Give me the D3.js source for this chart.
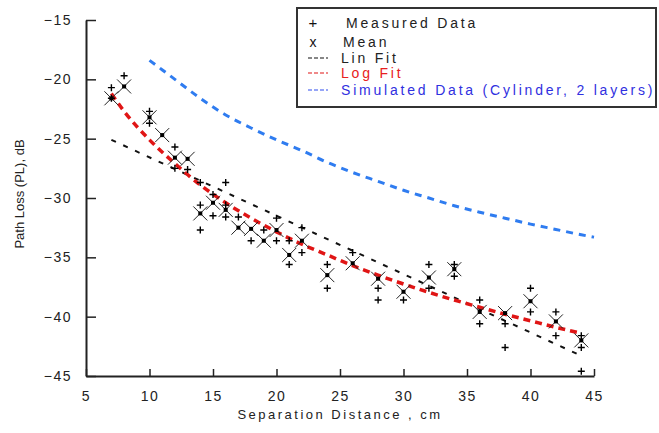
<!DOCTYPE html>
<html>
<head>
<meta charset="utf-8">
<script src="https://cdn.jsdelivr.net/npm/d3@7"></script>
<style>
  body { margin: 0; background: #fff; }
  text { font-family: "Liberation Sans", Arial, sans-serif; }
</style>
</head>
<body>
<div id="chart"></div>
<script>
//data
//measured points (+), one entry per point
var measuredX  = [7, 7, 8, 10, 10, 12, 12, 13, 14, 14, 14, 15, 15, 16, 16, 16, 17, 18, 19, 20, 20,
                  21, 21, 22, 22, 24, 24, 26, 28, 28, 30, 32, 32, 34, 34, 36, 36, 38, 38, 40, 40,
                  42, 42, 44, 44, 44];
var measuredPL = [-20.7, -21.6, -19.7, -22.7, -23.7, -25.7, -27.5, -27.6, -28.7, -30.6, -32.7, -29.7, -31.5, -28.7, -30.6, -31.6, -31.6, -33.6, -32.7, -33.6, -31.7,
                  -33.6, -35.6, -32.5, -34.6, -35.6, -37.6, -34.6, -37.6, -38.6, -38.6, -35.6, -37.6, -35.6, -36.6, -38.6, -40.6, -40.6, -42.6, -37.6, -39.6,
                  -39.6, -41.6, -41.6, -42.6, -44.6];

//means (x)
var meanX  = [7, 8, 10, 11, 12, 13, 14, 15, 16, 17, 18, 19, 20, 21, 22, 24, 26, 28, 30, 32, 34, 36, 38, 40, 42, 44];
var meanPL = [-21.6, -20.6, -23.2, -24.7, -26.6, -26.7, -31.3, -30.4, -31.0, -32.5, -32.6, -33.6, -32.7, -34.8, -33.6,
              -36.5, -35.5, -36.8, -37.9, -36.7, -36.0, -39.6, -39.7, -38.7, -40.4, -42.0];

//linear fit (black dashes)
var linFitX  = [7, 44];
var linFitPL = [-25.1, -43.3];

//log fit (red dashes)
var logFitX  = [7, 8, 10, 12, 14, 16, 18, 20, 22, 24, 26, 28, 30, 32, 34, 36, 38, 40, 42, 44];
var logFitPL = [-21.2, -22.7, -25.1, -27.1, -28.9, -30.4, -31.7, -32.85, -33.9, -34.8, -35.7, -36.5, -37.25, -37.95, -38.6, -39.2, -39.8, -40.35, -40.9, -41.4];

//simulated data (blue dashes)
var simX  = [10, 12, 14, 16, 18, 20, 22, 24, 26, 28, 30, 32, 34, 36, 38, 40, 42, 44, 45];
var simPL = [-18.4, -20.0, -21.6, -23.0, -24.1, -25.1, -26.0, -27.0, -27.85, -28.6, -29.35, -30.0, -30.65, -31.2, -31.7, -32.2, -32.65, -33.1, -33.3];

var xTicks = [5, 10, 15, 20, 25, 30, 35, 40, 45];
var yTicks = [-45, -40, -35, -30, -25, -20, -15];

var legendLabels = ["Measured Data", "Mean", "Lin Fit", "Log Fit", "Simulated Data (Cylinder, 2 layers)"];

//svg area
var svgWidth = 659;
var svgHeight = 433;

var svg = d3.select("#chart")
    .append("svg")
    .attr("width", svgWidth)
    .attr("height", svgHeight);

svg.append("rect")
    .attr("width", svgWidth)
    .attr("height", svgHeight)
    .attr("fill", "#fff");

//scales
var xScale = d3.scaleLinear()
    .domain([5, 45])
    .range([86, 594]);

var yScale = d3.scaleLinear()
    .domain([-45, -15])
    .range([376, 20]);

//axes, ticks point inward
var leftAxis = d3.axisLeft(yScale)
    .tickValues(yTicks)
    .tickSizeInner(-10)
    .tickSizeOuter(0)
    .tickPadding(14);

var bottomAxis = d3.axisBottom(xScale)
    .tickValues(xTicks)
    .tickSizeInner(-7)
    .tickSizeOuter(0)
    .tickPadding(15);

var yAxisG = svg.append("g")
    .attr("transform", `translate(${xScale(5)}, 0)`)
    .call(leftAxis);

var xAxisG = svg.append("g")
    .attr("transform", `translate(0, ${yScale(-45)})`)
    .call(bottomAxis);

[yAxisG, xAxisG].forEach(function(g) {
    g.select(".domain").attr("stroke", "#222").attr("stroke-width", 2);
    g.selectAll(".tick line").attr("stroke", "#222").attr("stroke-width", 1.5);
    g.selectAll(".tick text")
        .attr("fill", "#222")
        .style("font-size", "14px")
        .style("letter-spacing", "1.5px");
});

//axis titles
svg.append("text")
    .attr("transform", "translate(24, 194) rotate(-90)")
    .attr("text-anchor", "middle")
    .style("font-size", "13px")
    .attr("fill", "#222")
    .text("Path Loss (PL), dB");

svg.append("text")
    .attr("x", 340)
    .attr("y", 419)
    .attr("text-anchor", "middle")
    .style("font-size", "13px")
    .style("letter-spacing", "2.5px")
    .attr("fill", "#222")
    .text("Separation Distance , cm");

//fit lines
var line = d3.line()
    .x(d => xScale(d[0]))
    .y(d => yScale(d[1]))
    .curve(d3.curveMonotoneX);

svg.append("path")
    .datum(d3.zip(simX, simPL))
    .attr("d", line)
    .attr("fill", "none")
    .attr("stroke", "#2f7cf0")
    .attr("stroke-width", 3)
    .attr("stroke-dasharray", "7,6");

svg.append("path")
    .datum(d3.zip(linFitX, linFitPL))
    .attr("d", line)
    .attr("fill", "none")
    .attr("stroke", "#111")
    .attr("stroke-width", 2)
    .attr("stroke-dasharray", "5,8");

svg.append("path")
    .datum(d3.zip(logFitX, logFitPL))
    .attr("d", line)
    .attr("fill", "none")
    .attr("stroke", "#e01515")
    .attr("stroke-width", 3.5)
    .attr("stroke-dasharray", "7,5");

//measured data, small plus
svg.selectAll(".meas")
    .data(d3.zip(measuredX, measuredPL))
    .enter()
    .append("path")
    .attr("class", "meas")
    .attr("transform", d => `translate(${xScale(d[0])}, ${yScale(d[1])})`)
    .attr("d", "M-3.5,0H3.5M0,-3.5V3.5")
    .attr("stroke", "#000")
    .attr("stroke-width", 1.4);

//means, big x with dark centre
var meanG = svg.selectAll(".mean")
    .data(d3.zip(meanX, meanPL))
    .enter()
    .append("g")
    .attr("class", "mean")
    .attr("transform", d => `translate(${xScale(d[0])}, ${yScale(d[1])})`);

meanG.append("path")
    .attr("d", "M-7,-7L7,7M-7,7L7,-7")
    .attr("stroke", "#222")
    .attr("stroke-width", 1);

meanG.append("rect")
    .attr("x", -2)
    .attr("y", -2)
    .attr("width", 4)
    .attr("height", 4)
    .attr("fill", "#000");

//legend
svg.append("rect")
    .attr("x", 297)
    .attr("y", 8)
    .attr("width", 359)
    .attr("height", 99)
    .attr("fill", "#fff")
    .attr("stroke", "#333")
    .attr("stroke-width", 2);

var legendY = [28, 47, 63, 78, 95];
var legendTextX = [346, 343, 341, 341, 341];
var legendColors = ["#222", "#222", "#222", "#e82020", "#3030e0"];
var lineColors = ["#111", "#e01515", "#2f4cf0"];

svg.append("text").attr("x", 313).attr("y", legendY[0]).attr("text-anchor", "middle")
    .style("font-size", "15px").attr("fill", "#111").text("+");
svg.append("text").attr("x", 313).attr("y", legendY[1]).attr("text-anchor", "middle")
    .style("font-size", "14px").attr("fill", "#111").text("x");

lineColors.forEach(function(c, i) {
    svg.append("line")
        .attr("x1", 308)
        .attr("x2", 328)
        .attr("y1", legendY[i + 2] - 5)
        .attr("y2", legendY[i + 2] - 5)
        .attr("stroke", c)
        .attr("stroke-width", 1.2)
        .attr("stroke-dasharray", "4,2");
});

legendLabels.forEach(function(label, i) {
    svg.append("text")
        .attr("x", legendTextX[i])
        .attr("y", legendY[i])
        .style("font-size", "14px")
        .style("letter-spacing", "2.8px")
        .attr("fill", legendColors[i])
        .text(label);
});
</script>
</body>
</html>
